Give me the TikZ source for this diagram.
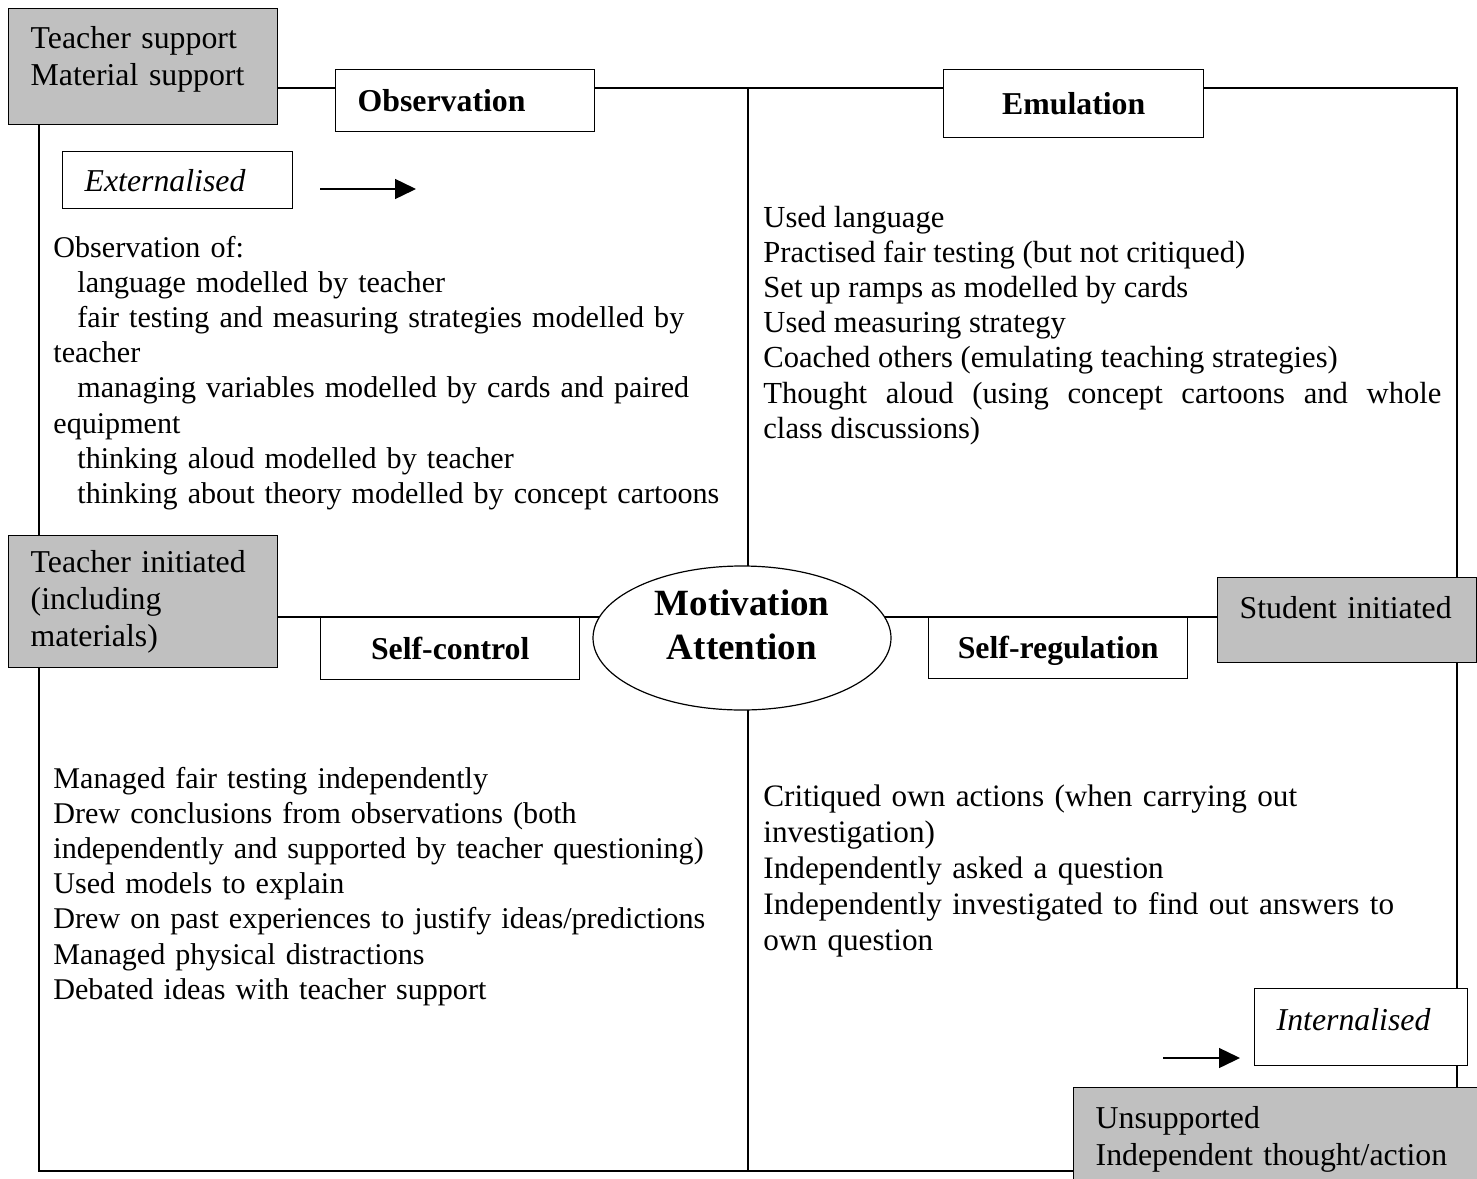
\documentclass[tikz,border=0pt]{standalone}
\usepackage{fontspec}
\setmainfont{Liberation Serif}
\usepackage{tikz}
\usetikzlibrary{arrows.meta}
\usetikzlibrary{backgrounds}
\usetikzlibrary{shapes,positioning}
\definecolor{boxgrey}{HTML}{C0C0C0}
\newcommand{\bodyfont}{\fontsize{15.05pt}{17.6pt}\selectfont}
\newcommand{\boxfont}{\fontsize{15.9pt}{18.5pt}\selectfont}
\tikzset{>={Triangle[length=10.5pt,width=10pt]},
  frame/.style={line width=1pt},
  wbox/.style={draw, line width=0.7pt, fill=white, anchor=north west,
    inner xsep=11pt, inner ysep=0pt, font=\boxfont, align=left},
  gbox/.style={wbox, fill=boxgrey},
  boxsize/.style 2 args={minimum width=#1, minimum height=#2, text width=#1-22pt},
  bodytext/.style={anchor=base west, inner sep=0pt, font=\bodyfont,
    text width=345pt, align=left}}

\begin{document}
\begin{tikzpicture}[x=0.5pt, y=-0.5pt]

  \useasboundingbox (0,0) rectangle (1477,1178);
  \clip (0,0) rectangle (1477,1178);

  % boxes
  \node[gbox, boxsize={134.5pt}{58pt}, text height=10.5pt, text depth=28.5pt] (tsup) at (8,8)
    {Teacher support\\Material support};
  \node[wbox, boxsize={129.5pt}{31pt}, font=\boxfont\bfseries] (obs) at (335,69) {Observation};
  \node[wbox, boxsize={130pt}{34pt}, font=\boxfont\bfseries, align=center] (emu) at (943,69) {Emulation};
  \node[wbox, boxsize={115pt}{28.5pt}, font=\boxfont\itshape] (ext) at (62,151) {Externalised};

  \node[gbox, boxsize={134.5pt}{66pt}] (tinit) at (8,535) {Teacher initiated\\(including\\materials)};
  \node[wbox, boxsize={129.5pt}{31pt}, font=\boxfont\bfseries, align=center] (selfc) at (320,617) {Self-control};
  \node[wbox, boxsize={129.5pt}{30.5pt}, font=\boxfont\bfseries, align=center, text depth=1pt] (selfr)
    at (928,617) {Self-regulation};
  \node[gbox, boxsize={129.5pt}{42.5pt}, text height=10.5pt, text depth=12pt] (sinit) at (1217,577)
    {Student initiated};

  \node[wbox, boxsize={106.5pt}{38.5pt}, font=\boxfont\itshape, text height=10.5pt, text depth=7pt] (intl)
    at (1254,988) {Internalised};
  \node[gbox, boxsize={202pt}{61.5pt}, text height=10.5pt, text depth=31pt] (unsup) at (1073,1087)
    {Unsupported\\Independent thought/action};

  \node[draw, ellipse, line width=0.6pt, fill=white, inner sep=0pt, minimum width=149pt,
    minimum height=72pt, text width=95pt, align=center,
    font=\fontsize{18.5pt}{22pt}\selectfont\bfseries, text height=12.5pt, text depth=35.5pt]
    (mot) at (742,638) {Motivation\\Attention};

  % quadrant texts
  \node[bodytext] (obstext) at (53,257) {Observation of:\\
    \hspace*{12pt}language modelled by teacher\\
    \hspace*{12pt}fair testing and measuring strategies modelled by\\
    teacher\\
    \hspace*{12pt}managing variables modelled by cards and paired\\
    equipment\\
    \hspace*{12pt}thinking aloud modelled by teacher\\
    \hspace*{12pt}thinking about theory modelled by concept cartoons};

  \node[bodytext, font=\fontsize{15.3pt}{17.6pt}\selectfont, text width=339pt, align=justify] (emutext)
    at (763,227) {Used language\\
    Practised fair testing (but not critiqued)\\
    Set up ramps as modelled by cards\\
    Used measuring strategy\\
    Coached others (emulating teaching strategies)\\
    Thought aloud (using concept cartoons and whole\linebreak class discussions)};

  \node[bodytext] (sctext) at (53,788) {Managed fair testing independently\\
    Drew conclusions from observations (both\\
    independently and supported by teacher questioning)\\
    Used models to explain\\
    Drew on past experiences to justify ideas/predictions\\
    Managed physical distractions\\
    Debated ideas with teacher support};

  \node[bodytext, font=\fontsize{15.6pt}{18.1pt}\selectfont] (srtext) at (763,806)
    {Critiqued own actions (when carrying out\\
    investigation)\\
    Independently asked a question\\
    Independently investigated to find out answers to\\
    own question};

  % frame lines
  \coordinate (lx) at (39,0);
  \coordinate (cx) at (748,88);
  \coordinate (tr) at (1457,88);
  \coordinate (bl) at (39,1171);
  \coordinate (cb) at (748,1171);
  \coordinate (mid) at (0,617);

  \begin{scope}[on background layer]
    \draw[frame] (tsup.east |- cx) -- (obs.west |- cx);
    \draw[frame] (obs.east |- cx) -- (emu.west |- cx);
    \draw[frame] (emu.east |- tr) -- (tr) -- (tr |- unsup.north);
    \draw[frame] (cx) -- (cx |- mot.center);
    \draw[frame] (cx |- mot.center) -- (cb);
    \draw[frame] (tsup.south -| lx) -- (tinit.north -| lx);
    \draw[frame] (tinit.south -| lx) -- (bl) -- (unsup.west |- bl);
    \draw[frame] (tinit.east |- mid) -- (mot.center |- mid);
    \draw[frame] (mot.center |- mid) -- (sinit.west |- mid);
  \end{scope}

  % arrows
  \coordinate (ea) at (320,189);
  \coordinate (eb) at (416,189);
  \draw[->, line width=0.7pt] (ea) -- (eb);

  \coordinate (ia) at (1163,1058);
  \coordinate (ib) at (1240,1058);
  \draw[->, line width=0.7pt] (ia) -- (ib);

\end{tikzpicture}
\end{document}
